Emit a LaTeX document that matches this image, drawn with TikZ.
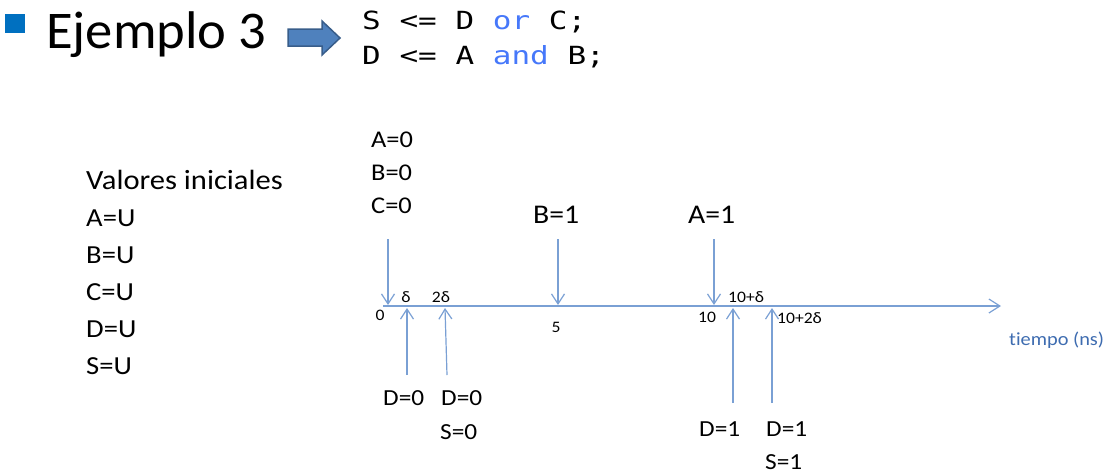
\documentclass[tikz,border=0pt]{standalone}
\usepackage{fontspec}
\setmainfont{Carlito}[FakeStretch=1.1,Ligatures=NoCommon]
\newfontfamily\titlefont{Carlito}[FakeStretch=1.03]
\newfontfamily\codefont{DejaVu Sans Mono}[FakeStretch=1.24]
\usetikzlibrary{arrows.meta}
\definecolor{linec}{RGB}{122,160,212}
\definecolor{timec}{RGB}{62,108,176}
\definecolor{bulletc}{RGB}{0,112,192}
\definecolor{arrowfill}{RGB}{79,129,189}
\definecolor{arrowdraw}{RGB}{56,93,138}
\definecolor{kw}{RGB}{70,120,250}
\begin{document}
\begin{tikzpicture}[x=1pt,y=-1pt,
  txt/.style={inner sep=0pt, anchor=west},
  big/.style={txt, font=\fontsize{26}{30}\selectfont},
  mid/.style={txt, font=\fontsize{24}{28}\selectfont},
  evt/.style={txt, font=\fontsize{27}{31}\selectfont},
  res/.style={txt, font=\fontsize{23}{27}\selectfont},
  tick/.style={inner sep=0pt, font=\fontsize{16}{18}\selectfont},
  code/.style={inner sep=0pt, anchor=base west, font=\codefont\fontsize{25}{30}\selectfont},
  conn/.style={linec, line width=1.2pt, -{Straight Barb[length=10pt,width=13pt,line width=1.2pt]}}
]
\useasboundingbox (0,0) rectangle (1109,475);

% title
\fill[bulletc] (5,14) rectangle (25,33);
\node[inner sep=0pt, anchor=base west, font=\titlefont\fontsize{53}{60}\selectfont] (title) at (46,48) {Ejemplo 3};
\filldraw[fill=arrowfill, draw=arrowdraw, line width=1.5pt, line join=miter]
  (288,29) -- (322,29) -- (322,21) -- (340,38) -- (322,55) -- (322,46) -- (288,46) -- cycle;
\node[code] (c1) at (362,29) {S <= D \textcolor{kw}{or} C;};
\node[code] (c2) at (362,64) {D <= A \textcolor{kw}{and} B;};

% initial values
\node[txt, font=\fontsize{27.8}{32}\selectfont] (vi) at (86,180) {Valores iniciales};
\node[big] (iA) at (86,218) {A=U};
\node[big] (iB) at (86,255) {B=U};
\node[big] (iC) at (86,292) {C=U};
\node[big] (iD) at (86,329) {D=U};
\node[big] (iS) at (86,366) {S=U};

% events above
\node[mid] (a0) at (371,140) {A=0};
\node[mid] (b0) at (371,173) {B=0};
\node[mid] (c0) at (371,206) {C=0};
\node[evt] (b1) at (533,215) {B=1};
\node[evt] (a1) at (688,215) {A=1};

% axis
\coordinate (axs) at (383,306);
\coordinate (axe) at (1001,306);
\draw[linec, line width=1.2pt, -{Straight Barb[length=11pt,width=14pt,line width=1.2pt]}] (axs) -- (axe);
\node[txt, font=\fontsize{18.5}{22}\selectfont, text=timec] (tiempo) at (1009,340) {tiempo (ns)};

% ticks
\node[tick] (t0) at (380,315) {0};
\node[tick] (td) at (406,297) {δ};
\node[tick] (t2d) at (441,297) {2δ};
\node[tick] (t5) at (556,327) {5};
\node[tick, anchor=west] (t10) at (698,317) {10};
\node[tick, anchor=west] (t10d) at (728,297) {10+δ};
\node[tick, anchor=west] (t10dd) at (777,318) {10+2δ};

% down arrows
\coordinate (d0s) at (388,239); \coordinate (d0e) at (388,305);
\coordinate (d5s) at (558,239); \coordinate (d5e) at (558,305);
\coordinate (d10s) at (714,239); \coordinate (d10e) at (714,305);
\draw[conn] (d0s) -- (d0e);
\draw[conn] (d5s) -- (d5e);
\draw[conn] (d10s) -- (d10e);

% up arrows
\coordinate (u1s) at (407,375); \coordinate (u1e) at (407,308);
\coordinate (u2s) at (447,375); \coordinate (u2e) at (445,308);
\coordinate (u3s) at (733,403); \coordinate (u3e) at (733,308);
\coordinate (u4s) at (772,403); \coordinate (u4e) at (772,308);
\draw[conn] (u1s) -- (u1e);
\draw[conn] (u2s) -- (u2e);
\draw[conn] (u3s) -- (u3e);
\draw[conn] (u4s) -- (u4e);

% results below
\node[res] (r1) at (383,398) {D=0};
\node[res] (r2) at (441,398) {D=0};
\node[res] (r3) at (440,432) {S=0};
\node[res] (r4) at (699,429) {D=1};
\node[res] (r5) at (766,429) {D=1};
\node[res] (r6) at (765,462) {S=1};
\end{tikzpicture}
\end{document}
